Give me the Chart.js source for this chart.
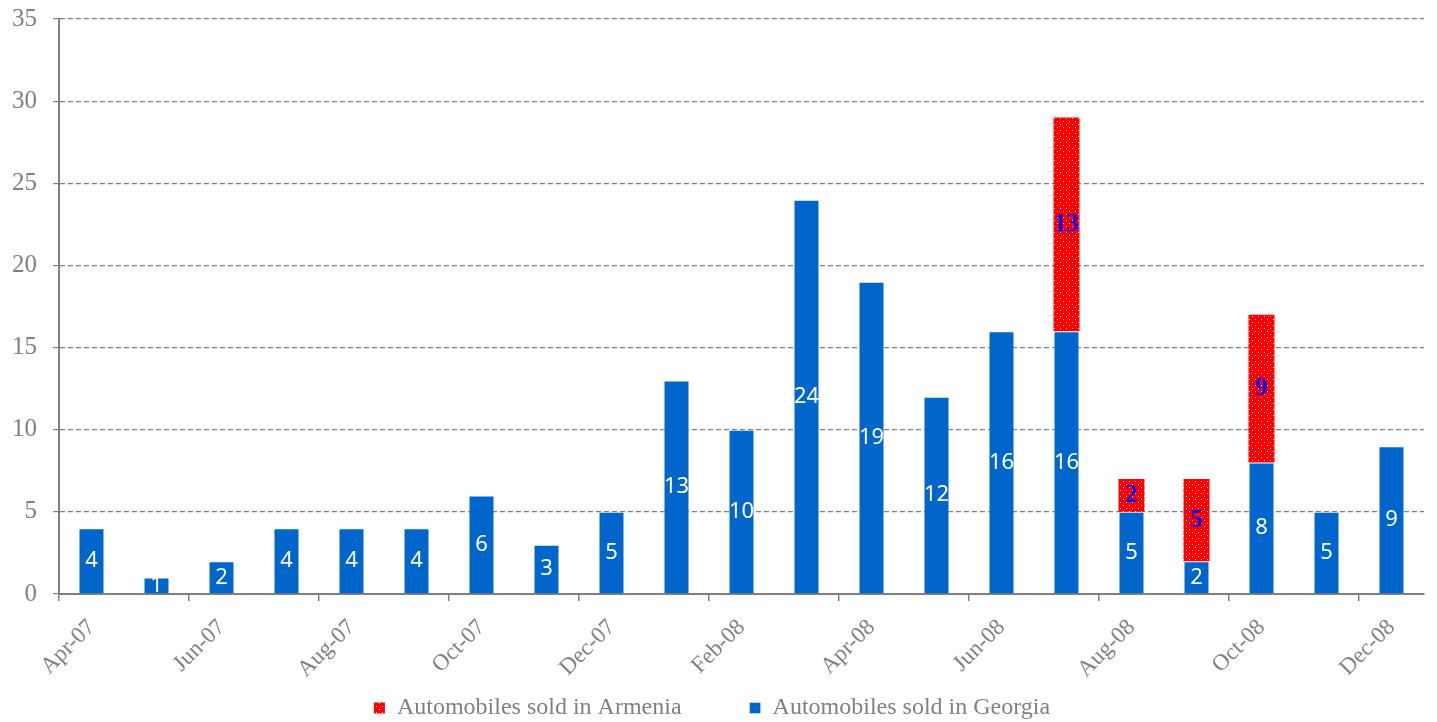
<!DOCTYPE html>
<html>
<head>
<meta charset="utf-8">
<script src="https://cdn.jsdelivr.net/npm/chart.js@4"></script>
<style>
  html, body { margin: 0; background: #fff; }
  #wrap { width: 1437px; height: 722px; position: relative; }
</style>
</head>
<body>
<div id="wrap"><canvas id="chart"></canvas></div>
<script>
const months = ["Apr-07","May-07","Jun-07","Jul-07","Aug-07","Sep-07","Oct-07","Nov-07","Dec-07",
  "Jan-08","Feb-08","Mar-08","Apr-08","May-08","Jun-08","Jul-08","Aug-08","Sep-08","Oct-08","Nov-08","Dec-08"];
const georgia = [4,1,2,4,4,4,6,3,5,13,10,24,19,12,16,16,5,2,8,5,9];
const armenia = [0,0,0,0,0,0,0,0,0,0,0,0,0,0,0,13,2,5,9,0,0];
const yTicks = [0,5,10,15,20,25,30,35];

const gray = "#808080";

// red fill with small white dots
function dotPattern(){
  const p = document.createElement("canvas");
  p.width = 6; p.height = 6;
  const g = p.getContext("2d");
  g.fillStyle = "#ff0000"; g.fillRect(0,0,6,6);
  g.fillStyle = "#ffd6d6";
  g.fillRect(1,1,1,1); g.fillRect(4,4,1,1);
  return g.createPattern(p, "repeat");
}

// value labels in the middle of each segment
const segLabels = {
  id: "segLabels",
  afterDatasetsDraw(chart){
    const ctx = chart.ctx;
    chart.data.datasets.forEach((ds, di) => {
      const meta = chart.getDatasetMeta(di);
      meta.data.forEach((el, i) => {
        const v = ds.data[i];
        if (!v) return;
        ctx.save();
        ctx.textAlign = "center";
        ctx.textBaseline = "middle";
        if (di === 0) { ctx.fillStyle = "#ffffff"; ctx.font = "22px 'Noto Sans'"; }
        else { ctx.fillStyle = "#0000ff"; ctx.font = "bold 25px 'Liberation Serif'"; }
        ctx.fillText(String(v), el.x, (el.y + el.base) / 2);
        ctx.restore();
      });
    });
  }
};

const ctx = document.getElementById("chart").getContext("2d");
new Chart(ctx, {
  type: "bar",
  data: {
    labels: months,
    datasets: [
      { label: "Automobiles sold in Georgia", data: georgia, backgroundColor: "#0066cc",
        borderColor: "rgba(255,255,255,0.35)", borderWidth: 1,
        categoryPercentage: 0.4, barPercentage: 1 },
      { label: "Automobiles sold in Armenia", data: armenia, backgroundColor: dotPattern(),
        categoryPercentage: 0.4, barPercentage: 1 }
    ]
  },
  options: {
    responsive: true, maintainAspectRatio: false, animation: false,
    layout: { padding: { left: 0, right: 13, top: 19, bottom: -8 } },
    plugins: {
      tooltip: { enabled: false },
      legend: {
        position: "bottom", reverse: true,
        labels: {
          boxWidth: 11, boxHeight: 11, padding: 2, color: gray,
          font: { family: "'Liberation Serif'", size: 24 },
          generateLabels(chart){
            const items = Chart.defaults.plugins.legend.labels.generateLabels(chart);
            items.forEach(it => { if (it.datasetIndex === 1) it.text += "           "; });
            return items;
          }
        }
      }
    },
    scales: {
      x: {
        stacked: true,
        afterFit(scale){ scale.height = 100; scale.paddingLeft = 0; scale.paddingRight = 0; },
        grid: { drawOnChartArea: false, drawTicks: true, tickLength: 7,
          color: c => c.index % 2 === 0 ? gray : "rgba(0,0,0,0)", lineWidth: 1.5 },
        border: { color: gray, width: 2 },
        ticks: {
          autoSkip: false, maxRotation: 45, minRotation: 45, padding: 13, color: gray,
          font: { family: "'Liberation Serif'", size: 23 },
          callback: (v, i) => i % 2 === 0 ? months[i] : ""
        }
      },
      y: {
        stacked: true, min: 0, max: 35,
        afterFit(scale){ scale.width = 59; scale.paddingTop = 0; scale.paddingBottom = 0; },
        afterBuildTicks(scale){ scale.ticks = yTicks.map(v => ({ value: v })); },
        grid: { color: gray, lineWidth: 1.2, tickLength: 6 },
        border: { color: gray, width: 2, dash: [5,3] },
        ticks: { padding: 16, color: gray, font: { family: "'Liberation Serif'", size: 25 } }
      }
    }
  },
  plugins: [segLabels]
});
</script>
</body>
</html>
